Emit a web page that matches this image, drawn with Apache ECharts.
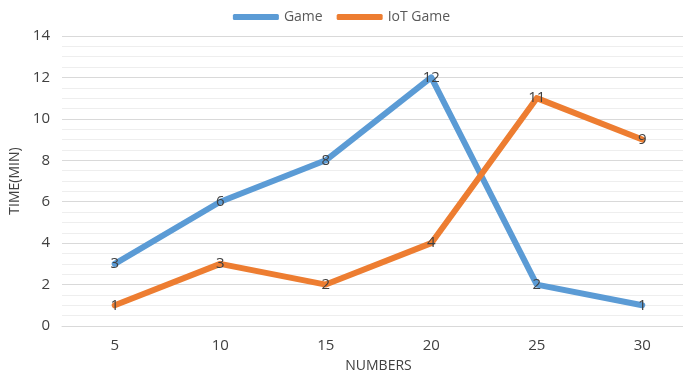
<!DOCTYPE html>
<html><head><meta charset="utf-8">
<script src="https://cdn.jsdelivr.net/npm/echarts@6/dist/echarts.min.js"></script>
<style>html,body{margin:0;padding:0;background:#fff}#c{width:683px;height:376px}</style>
</head><body><div id="c"></div>
<script>
const categories = ['5','10','15','20','25','30'];
const gameValues = [3,6,8,12,2,1];
const iotGameValues = [1,3,2,4,11,9];
const seriesNames = ['Game','IoT Game'];
const xTitle = 'NUMBERS';
const yTitle = 'TIME(MIN)';

const FONT = 'Open Sans';
const chart = echarts.init(document.getElementById('c'));
function mk(name, data, color){
  return {
    name, type:'line', data,
    lineStyle:{color, width:6, cap:'round', join:'round'},
    itemStyle:{color},
    symbol:'circle', symbolSize:1, showSymbol:true,
    label:{show:true, position:'inside', color:'#404040', fontSize:15, fontFamily:FONT},
    emphasis:{disabled:true},
    animation:false
  };
}
chart.setOption({
  animation:false,
  legend:{top:5, left:'center', itemWidth:46, itemHeight:6, itemGap:14,
    icon:'roundRect',
    textStyle:{color:'#595959', fontSize:14, fontFamily:FONT},
    data:seriesNames},
  grid:{left:62, top:36, width:633, height:290, outerBoundsMode:'none', containLabel:false},
  xAxis:{type:'category', data:categories, boundaryGap:true,
    name:xTitle, nameLocation:'middle', nameGap:33,
    nameTextStyle:{color:'#404040', fontSize:14, fontFamily:FONT},
    axisLine:{show:true, lineStyle:{color:'#d9d9d9', width:1}},
    axisTick:{show:false},
    axisLabel:{color:'#404040', fontSize:15, fontFamily:FONT, margin:12}},
  yAxis:{type:'value', min:0, max:14, interval:2,
    name:yTitle, nameLocation:'middle', nameGap:40,
    nameTextStyle:{color:'#404040', fontSize:14, fontFamily:FONT},
    axisLine:{show:false}, axisTick:{show:false},
    axisLabel:{color:'#404040', fontSize:15, fontFamily:FONT, margin:12},
    splitLine:{show:true, lineStyle:{color:'#d9d9d9', width:1}},
    minorTick:{show:false, splitNumber:4},
    minorSplitLine:{show:true, lineStyle:{color:'#eeeeee', width:1}}},
  series:[mk(seriesNames[0], gameValues, '#5B9BD5'), mk(seriesNames[1], iotGameValues, '#ED7D31')]
});
</script></body></html>
